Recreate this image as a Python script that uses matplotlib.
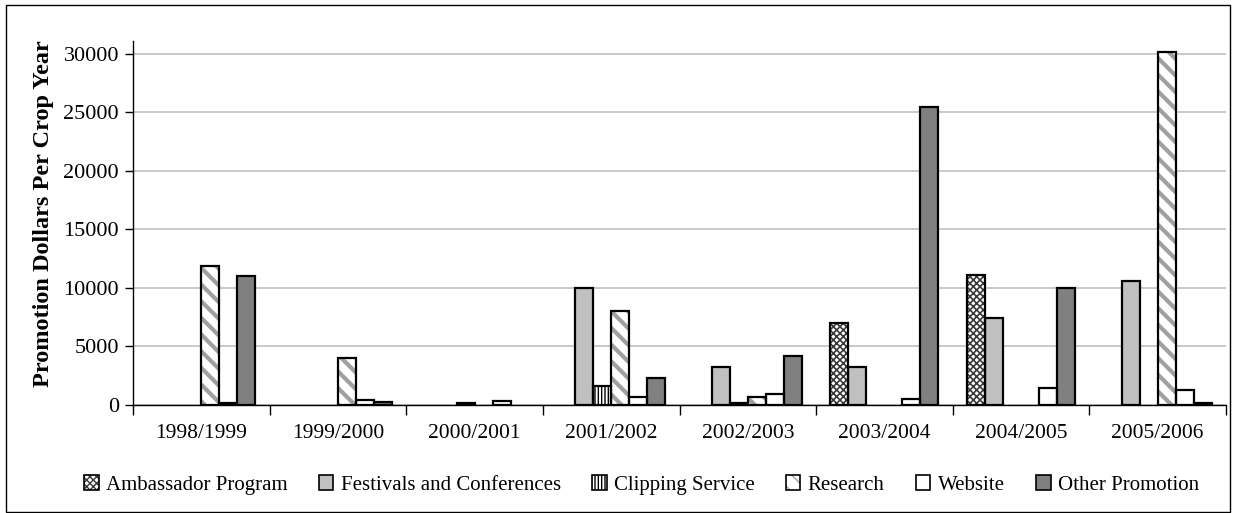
import matplotlib
matplotlib.use("Agg")
import matplotlib.pyplot as plt
from matplotlib.patches import Patch, Rectangle
from matplotlib.legend_handler import HandlerTuple
import numpy as np

# Crop years and promotion spending per category
crop_years = ["1998/1999", "1999/2000", "2000/2001", "2001/2002",
              "2002/2003", "2003/2004", "2004/2005", "2005/2006"]
ambassador = [0, 0, 0, 0, 0, 7000, 11100, 0]
festivals = [0, 0, 0, 10000, 3250, 3250, 7400, 10600]
clipping = [0, 0, 150, 1600, 150, 0, 0, 0]
research = [11900, 4000, 0, 8000, 650, 0, 0, 30150]
website = [150, 400, 350, 700, 900, 550, 1450, 1300]
other = [11000, 250, 0, 2300, 4150, 25450, 10000, 150]
series_names = ["Ambassador Program", "Festivals and Conferences", "Clipping Service",
                "Research", "Website", "Other Promotion"]
y_ticks = [0, 5000, 10000, 15000, 20000, 25000, 30000]

plt.rcParams["font.family"] = ["Liberation Serif", "DejaVu Serif"]

# (values, face colour, hatch, hatch colour, hatch width)
styles = [
    (ambassador, "white", "xxxxx", "#3a3a3a", 1.2),
    (festivals, "#c0c0c0", None, None, 1.0),
    (clipping, "white", "|||||", "#000000", 1.0),
    (research, "white", "\\\\", "#a0a0a0", 3.0),
    (website, "white", None, None, 1.0),
    (other, "#808080", None, None, 1.0),
]

fig = plt.figure(figsize=(12.36, 5.13), dpi=100)
ax = fig.add_axes([133 / 1236, 1 - 405 / 513, (1226 - 133) / 1236, (405 - 41) / 513])

x = np.arange(len(crop_years))
w = 0.1318
handles = []
for i, (vals, fc, hatch, hc, hlw) in enumerate(styles):
    vals = np.asarray(vals, dtype=float)
    keep = vals > 0  # empty categories get no bar at all
    pos = (x + (i - 2.5) * w)[keep]
    v = vals[keep]
    with plt.rc_context({"hatch.linewidth": hlw}):
        if hatch:
            ax.bar(pos, v, w, color=fc, edgecolor=hc, hatch=hatch, linewidth=0, zorder=2)
            ph = Patch(facecolor=fc, edgecolor=hc, hatch=hatch, linewidth=0)
        else:
            ax.bar(pos, v, w, color=fc, linewidth=0, zorder=2)
            ph = Patch(facecolor=fc, linewidth=0)
    ax.bar(pos, v, w, facecolor="none", edgecolor="black", linewidth=1.6, zorder=3)
    po = Patch(facecolor="none", edgecolor="black", linewidth=1.2)
    handles.append((ph, po))

ax.set_xlim(-0.5, len(crop_years) - 0.5)
ax.set_ylim(0, 31085)
ax.set_yticks(y_ticks)
ax.set_yticklabels([str(v) for v in y_ticks], fontsize=16)
ax.yaxis.grid(True, color="#c0c0c0", linewidth=1.2)
ax.set_axisbelow(True)

ax.set_xticks(x)
ax.set_xticklabels(crop_years, fontsize=15.5)
ax.tick_params(axis="x", length=0, pad=14)
ax.set_xticks(np.arange(len(crop_years) + 1) - 0.5, minor=True)
ax.tick_params(axis="x", which="minor", length=7, width=1, direction="out")
ax.tick_params(axis="y", length=6, width=1, direction="out", pad=4)

for s in ["top", "right"]:
    ax.spines[s].set_visible(False)
for s in ["left", "bottom"]:
    ax.spines[s].set_linewidth(1.0)

ax.set_ylabel("Promotion Dollars Per Crop Year", fontsize=17.5, fontweight="bold")
ax.yaxis.set_label_coords(-0.072, 0.525)

fig.legend(handles, series_names, loc="center", bbox_to_anchor=(0.519, 1 - 485 / 513),
           ncol=6, frameon=False, fontsize=15, handlelength=0.7, handleheight=0.7,
           handletextpad=0.35, columnspacing=1.5,
           handler_map={tuple: HandlerTuple(ndivide=1)})

fig.add_artist(Rectangle((6 / 1236, 1 - 512 / 513), (1230 - 6) / 1236, (512 - 5) / 513,
                         transform=fig.transFigure, facecolor="none", edgecolor="black",
                         linewidth=1.0))

fig.savefig("out.png", dpi=100)
